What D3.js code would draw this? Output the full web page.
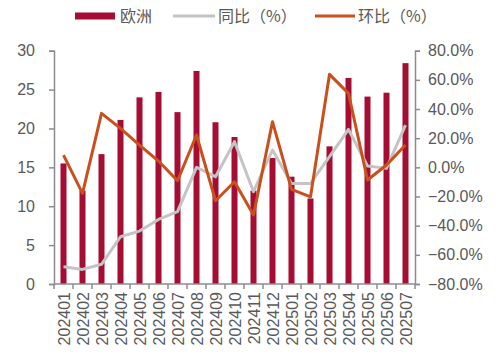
<!DOCTYPE html>
<html>
<head>
<meta charset="utf-8">
<script src="https://cdn.jsdelivr.net/npm/d3@7"></script>
<style>
body{margin:0;background:#fff;}
text{font-family:"Liberation Sans",Arial,sans-serif;fill:#595959;}
.cjk{font-family:"Noto Sans CJK SC",sans-serif;}
</style>
</head>
<body>
<main></main>
<script>
const months=["202401","202402","202403","202404","202405","202406","202407","202408","202409","202410","202411","202412","202501","202502","202503","202504","202505","202506","202507"];
const europe=[15.5,12.0,16.7,21.1,24.0,24.7,22.1,27.4,20.8,18.9,12.0,16.2,13.8,11.0,17.7,26.5,24.1,24.6,28.4];
const yoy=[-68.2,-70.0,-66.5,-47.6,-43.7,-35.7,-30.4,0.0,-6.4,17.6,-16.7,11.9,-11.0,-11.0,7.3,26.0,0.9,-0.7,29.0];
const mom=[8.4,-17.8,37.0,26.7,15.3,4.3,-9.2,22.2,-22.9,-9.9,-32.7,31.3,-15.1,-20.2,63.8,50.7,-8.7,1.6,15.3];
const leftTicks=[0,5,10,15,20,25,30];
const rightTicks=[-80,-60,-40,-20,0,20,40,60,80];

const w=500,h=361;
const x0=54,x1=415,yTop=50.7,yBot=284;
const svg=d3.select("main").append("svg").attr("width",w).attr("height",h);

const xScale=d3.scaleBand().domain(months).range([x0,x1]);
const yLeft=d3.scaleLinear().domain([0,30]).range([yBot,yTop]);
const yRight=d3.scaleLinear().domain([-80,80]).range([yBot,yTop]);
const axisColor="#8c8c8c";

// bars
const barW=6;
svg.selectAll("rect.bar").data(europe).enter().append("rect")
   .attr("class","bar")
   .attr("x",(d,i)=>xScale(months[i])+xScale.bandwidth()/2-barW/2)
   .attr("y",d=>yLeft(d))
   .attr("width",barW)
   .attr("height",d=>yBot-yLeft(d))
   .attr("fill","#a50d33");

// lines
const line=d3.line().x((d,i)=>xScale(months[i])+xScale.bandwidth()/2).y(d=>yRight(d));
svg.append("path").datum(yoy).attr("d",line).attr("fill","none")
   .attr("stroke","#c4c4c4").attr("stroke-width",3).attr("stroke-linejoin","round");
svg.append("path").datum(mom).attr("d",line).attr("fill","none")
   .attr("stroke","#c9501c").attr("stroke-width",3).attr("stroke-linejoin","round");

// left axis
const leftAxis=svg.append("g").attr("transform","translate("+x0+",0)")
   .call(d3.axisLeft(yLeft).tickValues(leftTicks).tickSize(5).tickPadding(14));
// right axis
const rightAxis=svg.append("g").attr("transform","translate("+x1+",0)")
   .call(d3.axisRight(yRight).tickValues(rightTicks).tickSize(5).tickPadding(8)
   .tickFormat(d=>d3.format(".1f")(d)+"%"));
[leftAxis,rightAxis].forEach(g=>{
  g.select(".domain").attr("stroke",axisColor).attr("stroke-width",1.5);
  g.selectAll(".tick line").attr("stroke",axisColor).attr("stroke-width",1.5);
  g.selectAll(".tick text").style("font-size","16px").attr("fill","#595959");
});

// bottom axis: line + boundary ticks + rotated labels
const xg=svg.append("g");
xg.append("line").attr("x1",x0).attr("x2",x1).attr("y1",yBot).attr("y2",yBot)
  .attr("stroke",axisColor).attr("stroke-width",1.5);
const bounds=months.map(m=>xScale(m)).concat([x1]);
xg.selectAll("line.t").data(bounds).enter().append("line")
  .attr("x1",d=>d).attr("x2",d=>d).attr("y1",yBot).attr("y2",yBot+5)
  .attr("stroke",axisColor).attr("stroke-width",1.5);
xg.selectAll("text").data(months).enter().append("text")
  .attr("transform",d=>"translate("+(xScale(d)+xScale.bandwidth()/2+6)+","+(yBot+8)+") rotate(-90)")
  .attr("text-anchor","end")
  .style("font-size","16px")
  .text(d=>d);

// legend
const lg=svg.append("g").attr("transform","translate(0,16)");
lg.append("rect").attr("x",75).attr("y",-3.5).attr("width",40).attr("height",7).attr("fill","#a50d33");
lg.append("text").attr("class","cjk").attr("x",120).attr("y",6).style("font-size","16px").text("欧洲");
lg.append("line").attr("x1",173).attr("x2",215).attr("y1",0).attr("y2",0).attr("stroke","#c4c4c4").attr("stroke-width",3);
lg.append("text").attr("class","cjk").attr("x",218).attr("y",6).style("font-size","16px").text("同比（%）");
lg.append("line").attr("x1",315).attr("x2",355).attr("y1",0).attr("y2",0).attr("stroke","#c9501c").attr("stroke-width",3);
lg.append("text").attr("class","cjk").attr("x",358).attr("y",6).style("font-size","16px").text("环比（%）");
</script>
</body>
</html>
